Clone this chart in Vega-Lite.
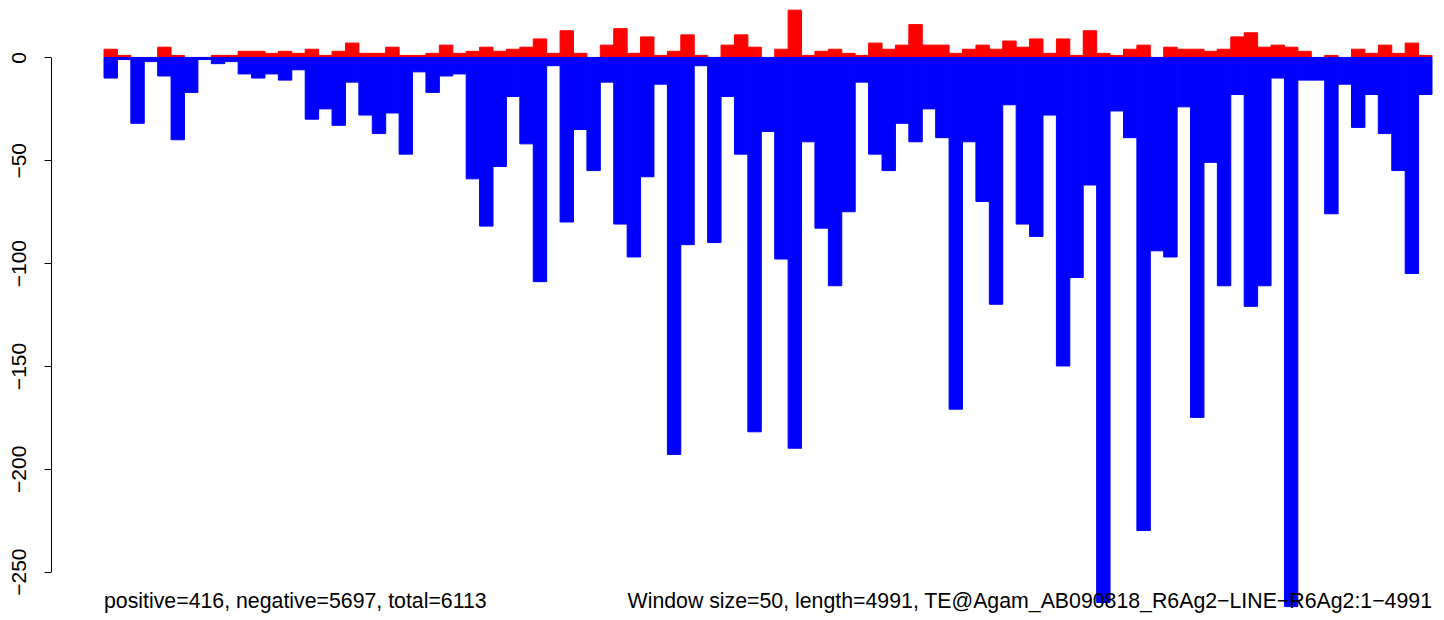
{
  "$schema": "https://vega.github.io/schema/vega-lite/v6.json",
  "width": 1328,
  "height": 617,
  "autosize": {"type": "none"},
  "padding": {"left": 104, "top": 4, "right": 12, "bottom": 0},
  "background": "white",
  "config": {"view": {"stroke": null}, "font": "Liberation Sans"},
  "data": {"values": [
    {"i":0,"pos":4,"neg":-10},{"i":1,"pos":1,"neg":-1},{"i":2,"pos":0,"neg":-32},{"i":3,"pos":0,"neg":-2},{"i":4,"pos":5,"neg":-9},
    {"i":5,"pos":1,"neg":-40},{"i":6,"pos":0,"neg":-17},{"i":7,"pos":0,"neg":-1},{"i":8,"pos":1,"neg":-3},{"i":9,"pos":1,"neg":-2},
    {"i":10,"pos":3,"neg":-8},{"i":11,"pos":3,"neg":-10},{"i":12,"pos":2,"neg":-8},{"i":13,"pos":3,"neg":-11},{"i":14,"pos":2,"neg":-6},
    {"i":15,"pos":4,"neg":-30},{"i":16,"pos":1,"neg":-25},{"i":17,"pos":3,"neg":-33},{"i":18,"pos":7,"neg":-12},{"i":19,"pos":2,"neg":-28},
    {"i":20,"pos":2,"neg":-37},{"i":21,"pos":5,"neg":-27},{"i":22,"pos":1,"neg":-47},{"i":23,"pos":1,"neg":-7},{"i":24,"pos":2,"neg":-17},
    {"i":25,"pos":6,"neg":-9},{"i":26,"pos":2,"neg":-8},{"i":27,"pos":3,"neg":-59},{"i":28,"pos":5,"neg":-82},{"i":29,"pos":3,"neg":-53},
    {"i":30,"pos":4,"neg":-19},{"i":31,"pos":5,"neg":-42},{"i":32,"pos":9,"neg":-109},{"i":33,"pos":2,"neg":-4},{"i":34,"pos":13,"neg":-80},
    {"i":35,"pos":2,"neg":-35},{"i":36,"pos":0,"neg":-55},{"i":37,"pos":6,"neg":-12},{"i":38,"pos":14,"neg":-81},{"i":39,"pos":2,"neg":-97},
    {"i":40,"pos":10,"neg":-58},{"i":41,"pos":1,"neg":-13},{"i":42,"pos":3,"neg":-193},{"i":43,"pos":11,"neg":-91},{"i":44,"pos":1,"neg":-4},
    {"i":45,"pos":0,"neg":-90},{"i":46,"pos":6,"neg":-19},{"i":47,"pos":11,"neg":-47},{"i":48,"pos":5,"neg":-182},{"i":49,"pos":0,"neg":-36},
    {"i":50,"pos":4,"neg":-98},{"i":51,"pos":23,"neg":-190},{"i":52,"pos":1,"neg":-41},{"i":53,"pos":3,"neg":-83},{"i":54,"pos":4,"neg":-111},
    {"i":55,"pos":2,"neg":-75},{"i":56,"pos":1,"neg":-12},{"i":57,"pos":7,"neg":-47},{"i":58,"pos":4,"neg":-55},{"i":59,"pos":6,"neg":-32},
    {"i":60,"pos":16,"neg":-41},{"i":61,"pos":6,"neg":-25},{"i":62,"pos":6,"neg":-39},{"i":63,"pos":2,"neg":-171},{"i":64,"pos":4,"neg":-41},
    {"i":65,"pos":6,"neg":-70},{"i":66,"pos":4,"neg":-120},{"i":67,"pos":8,"neg":-23},{"i":68,"pos":5,"neg":-81},{"i":69,"pos":9,"neg":-87},
    {"i":70,"pos":2,"neg":-28},{"i":71,"pos":9,"neg":-150},{"i":72,"pos":1,"neg":-107},{"i":73,"pos":13,"neg":-62},{"i":74,"pos":2,"neg":-265},
    {"i":75,"pos":1,"neg":-26},{"i":76,"pos":4,"neg":-39},{"i":77,"pos":6,"neg":-230},{"i":78,"pos":0,"neg":-94},{"i":79,"pos":5,"neg":-97},
    {"i":80,"pos":4,"neg":-24},{"i":81,"pos":4,"neg":-175},{"i":82,"pos":3,"neg":-51},{"i":83,"pos":4,"neg":-111},{"i":84,"pos":10,"neg":-18},
    {"i":85,"pos":12,"neg":-121},{"i":86,"pos":5,"neg":-111},{"i":87,"pos":6,"neg":-10},{"i":88,"pos":5,"neg":-267},{"i":89,"pos":3,"neg":-11},
    {"i":90,"pos":0,"neg":-11},{"i":91,"pos":1,"neg":-76},{"i":92,"pos":0,"neg":-13},{"i":93,"pos":4,"neg":-34},{"i":94,"pos":2,"neg":-18},
    {"i":95,"pos":6,"neg":-37},{"i":96,"pos":2,"neg":-55},{"i":97,"pos":7,"neg":-105},{"i":98,"pos":1,"neg":-18}
  ]},
  "layer": [
    {
      "layer": [
        {
          "mark": {"type": "bar", "color": "#FF0000", "stroke": "#FF0000", "strokeWidth": 1},
          "encoding": {
            "x": {"field": "i", "type": "ordinal", "scale": {"paddingInner": 0, "paddingOuter": 0}, "axis": null},
            "y": {"field": "pos", "type": "quantitative", "scale": {"domain": [-274, 26], "nice": false}, "axis": null},
            "y2": {"datum": 0}
          }
        },
        {
          "mark": {"type": "bar", "color": "#0000FF", "stroke": "#0000FF", "strokeWidth": 1},
          "encoding": {
            "x": {"field": "i", "type": "ordinal", "axis": null},
            "y": {"field": "neg", "type": "quantitative", "axis": null},
            "y2": {"datum": 0}
          }
        },
        {
          "data": {"values": [{"label": "positive=416, negative=5697, total=6113"}]},
          "mark": {"type": "text", "align": "left", "baseline": "alphabetic", "fontSize": 21.3, "font": "Liberation Sans", "color": "black"},
          "encoding": {
            "text": {"field": "label"},
            "x": {"datum": 0, "type": "ordinal", "bandPosition": 0},
            "y": {"datum": -267.7, "type": "quantitative"}
          }
        },
        {
          "data": {"values": [{"label": "Window size=50, length=4991, TE@Agam_AB090818_R6Ag2−LINE−R6Ag2:1−4991"}]},
          "mark": {"type": "text", "align": "right", "baseline": "alphabetic", "fontSize": 21.3, "font": "Liberation Sans", "color": "black"},
          "encoding": {
            "text": {"field": "label"},
            "x": {"datum": 98, "type": "ordinal", "bandPosition": 1},
            "y": {"datum": -267.7, "type": "quantitative"}
          }
        }
      ]
    },
    {
      "mark": {"type": "rule", "opacity": 0},
      "encoding": {
        "y": {
          "field": "neg", "type": "quantitative",
          "scale": {"domain": [-250, 0], "range": [567.65, 53.47], "nice": false, "zero": false, "clamp": true},
          "axis": {
            "orient": "left", "offset": 53, "values": [0, -50, -100, -150, -200, -250],
            "labelAngle": 270, "labelAlign": "center", "labelBaseline": "bottom",
            "labelFontSize": 21, "labelFont": "Liberation Sans", "labelColor": "black",
            "labelPadding": 15, "labelFlush": false, "labelOverlap": false,
            "tickColor": "black", "tickSize": 7, "tickWidth": 1,
            "domainColor": "black", "domainWidth": 1,
            "grid": false, "title": null, "format": "d"
          }
        }
      }
    }
  ],
  "resolve": {"scale": {"y": "independent"}}
}
